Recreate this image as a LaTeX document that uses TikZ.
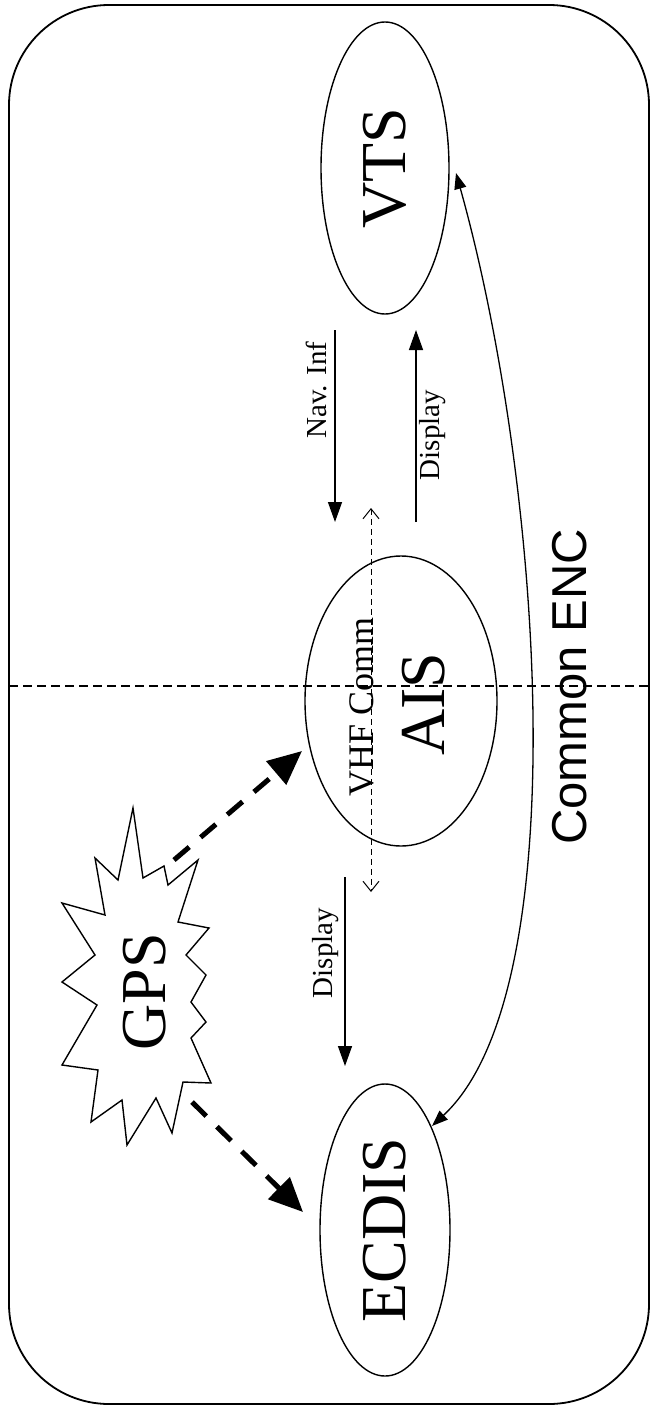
\documentclass[tikz,border=0pt]{standalone}
\usepackage{fontspec}
\setmainfont{Liberation Serif}
\newfontfamily\encfont{Liberation Sans}
\usetikzlibrary{arrows.meta,shapes.geometric}
\begin{document}
\begin{tikzpicture}[x=1pt,y=-1pt,
  every node/.style={inner sep=0pt, outer sep=0pt},
  ell/.style={draw, line width=1.4pt, ellipse, rotate=90, inner sep=0pt},
  big/.style={font=\fontsize{64}{64}\selectfont},
  lbl/.style={font=\fontsize{29}{29}\selectfont, rotate=90},
  solidarrow/.style={line width=1.4pt, -{Triangle[length=20pt,width=14pt]}},
  gpsarrow/.style={line width=5pt, dash pattern=on 20pt off 15pt, -{Triangle[length=34pt,width=30pt]}},
  encarrow/.style={line width=1.3pt, {Triangle[length=16pt,width=12pt]}-{Triangle[length=16pt,width=12pt]}},
  vhfarrow/.style={line width=1pt, dash pattern=on 6pt off 4pt, {Straight Barb[length=10pt,width=16pt]}-{Straight Barb[length=10pt,width=16pt]}},
  ]
\useasboundingbox (0,0) rectangle (651,1407);
% frame
\draw[line width=1.8pt, rounded corners=100pt] (9,5) rectangle (649,1404);
% horizontal dashed divider
\coordinate (divL) at (9,686);
\coordinate (divR) at (651,686);
\draw[line width=1.7pt, dash pattern=on 9pt off 5pt] (divL) -- (divR);
% ellipses
\node[ell, big, minimum width=292pt, minimum height=128pt] (vts) at (385,168) {VTS};
\node[ell, minimum width=290pt, minimum height=192pt] (ais) at (401,701) {};
\node[ell, big, minimum width=292pt, minimum height=130pt] (ecdis) at (385,1230) {ECDIS};
\node[big, rotate=90] (aistext) at (424,704) {AIS};
\node[font=\fontsize{36}{36}\selectfont, rotate=90] (vhftext) at (362,707) {VHF Comm};
% GPS starburst
\draw[line width=1.4pt, line join=miter] (133,808) -- (143,878) -- (164,866) -- (168,885) -- (198,860) -- (178,922) -- (209,928) -- (186,955) -- (206,975) -- (191,1002) -- (206,1022) -- (191,1038) -- (211,1083) -- (183,1082) -- (172,1133) -- (156,1098) -- (127,1145) -- (122,1100) -- (91,1122) -- (98,1070) -- (62,1065) -- (97,1005) -- (62,982) -- (95,955) -- (62,903) -- (105,915) -- (95,858) -- (118,880) -- cycle;
\node[big, rotate=90] (gps) at (145,992) {GPS};
% Common ENC
\node[font=\encfont\fontsize{49}{49}\selectfont, rotate=90] (enc) at (570,687) {Common ENC};
\coordinate (encA) at (456,173);
\coordinate (encB) at (432,1126);
\draw[encarrow] (encA) .. controls (542,480) and (578,990) .. (encB);
% VHF double arrow
\coordinate (vhfA) at (371,508);
\coordinate (vhfB) at (371,892);
\draw[vhfarrow] (vhfA) -- (vhfB);
% Nav. Inf and Display (upper)
\coordinate (navA) at (335,330);
\coordinate (navB) at (335,522);
\draw[solidarrow] (navA) -- (navB);
\node[lbl] (navtext) at (316,390) {Nav. Inf};
\coordinate (dispA) at (416,522);
\coordinate (dispB) at (416,330);
\draw[solidarrow] (dispA) -- (dispB);
\node[lbl] (disptext) at (433,435) {Display};
% Display (lower)
\coordinate (disp2A) at (345,877);
\coordinate (disp2B) at (345,1066);
\draw[solidarrow] (disp2A) -- (disp2B);
\node[lbl] (disp2text) at (326,953) {Display};
% GPS arrows
\coordinate (gpsA) at (174,860);
\coordinate (gpsAend) at (302,751);
\draw[gpsarrow] (gpsA) -- (gpsAend);
\coordinate (gpsB) at (192,1102);
\coordinate (gpsBend) at (303,1212);
\draw[gpsarrow] (gpsB) -- (gpsBend);
\end{tikzpicture}
\end{document}
